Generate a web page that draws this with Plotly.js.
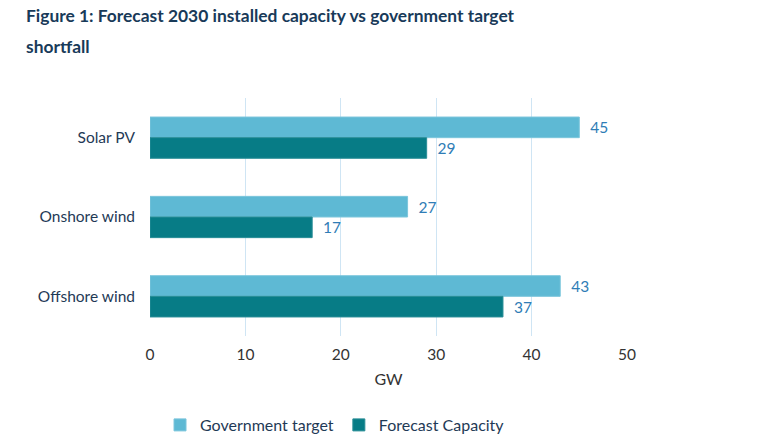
<!DOCTYPE html>
<html>
<head>
<meta charset="utf-8">
<script src="https://cdn.plot.ly/plotly-3.0.1.min.js"></script>
<style>html,body{margin:0;padding:0;background:#fff;}#chart{width:770px;height:440px;}</style>
</head>
<body>
<div id="chart"></div>
<script>
const categories = ["Solar PV", "Onshore wind", "Offshore wind"];
const governmentTarget = [45, 27, 43];
const forecastCapacity = [29, 17, 37];
const seriesNames = ["Government target", "Forecast Capacity"];
const titleLines = ["Figure 1: Forecast 2030 installed capacity vs government target", "shortfall"];

const labelFont = {family: "Lato, 'Open Sans', sans-serif", size: 15.5, color: "#2f7db6"};

const traces = [
  {
    type: "bar", orientation: "h", name: seriesNames[0],
    y: categories, x: governmentTarget,
    marker: {color: "#5eb9d4", line: {color: "#7cc6dc", width: 1}},
    text: governmentTarget.map(v => "  " + v), textposition: "outside",
    textfont: labelFont, cliponaxis: false, hoverinfo: "x+name"
  },
  {
    type: "bar", orientation: "h", name: seriesNames[1],
    y: categories, x: forecastCapacity,
    marker: {color: "#077c86", line: {color: "#2a8e97", width: 1}},
    text: forecastCapacity.map(v => "  " + v), textposition: "outside",
    textfont: labelFont, cliponaxis: false, hoverinfo: "x+name"
  }
];

const titleFont = {family: "Lato, sans-serif", size: 17.4, color: "#183a59"};

const layout = {
  width: 770, height: 440,
  margin: {l: 150, r: 143, t: 98, b: 104, autoexpand: false},
  paper_bgcolor: "#fff", plot_bgcolor: "#fff",
  font: {family: "Lato, 'Open Sans', sans-serif", color: "#1f3a56"},
  annotations: [
    {text: "<b>" + titleLines[0] + "</b>", xref: "paper", yref: "paper",
     x: -126/477, y: (336-16)/238, xanchor: "left", yanchor: "middle",
     showarrow: false, font: titleFont},
    {text: "<b>" + titleLines[1] + "</b>", xref: "paper", yref: "paper",
     x: -126/477, y: (336-46)/238, xanchor: "left", yanchor: "middle",
     showarrow: false, font: titleFont}
  ],
  barmode: "group", bargap: 0.48, bargroupgap: 0,
  xaxis: {
    range: [0, 50], dtick: 10, tick0: 0, automargin: false,
    showgrid: true, gridcolor: "#cfe5f4", gridwidth: 1,
    zeroline: false, showline: false, ticks: "",
    ticklabelstandoff: 7,
    tickfont: {size: 15.5, color: "#333333"},
    title: {text: "GW", font: {size: 16, color: "#333333"}, standoff: 12}
  },
  yaxis: {
    type: "category", range: [2.5, -0.5], automargin: false,
    showgrid: false, zeroline: false, showline: false, ticks: "",
    ticklabelstandoff: 14,
    tickfont: {size: 15.5, color: "#1f3a56"}
  },
  showlegend: true,
  legend: {
    orientation: "h", x: 0.021, xanchor: "left",
    yref: "container", y: 15/440, yanchor: "middle",
    font: {size: 16, color: "#1f3a56"}, itemwidth: 30, tracegroupgap: 0
  }
};

Plotly.newPlot("chart", traces, layout, {displayModeBar: false, staticPlot: true});
</script>
</body>
</html>
